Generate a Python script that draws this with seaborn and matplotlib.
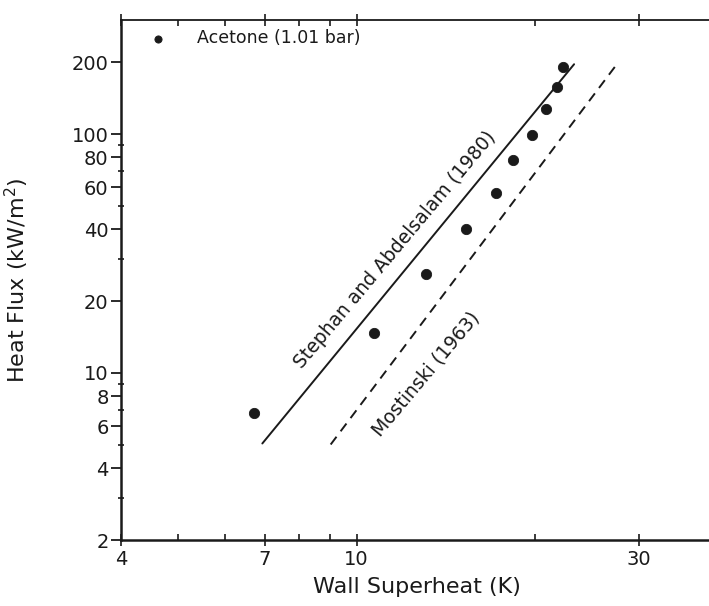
import pandas as pd
import seaborn as sns
import matplotlib.pyplot as plt
from matplotlib.ticker import FixedLocator, NullFormatter, FixedFormatter

# acetone at 1.01 bar
superheat = [6.7, 10.7, 13.1, 15.3, 17.2, 18.4, 19.8, 20.9, 21.8, 22.3]
heat_flux = [6.8, 14.7, 25.9, 39.9, 56.4, 78.0, 99.0, 127.0, 157.0, 191.0]

# correlation lines, end points
stephan_dt = [6.93, 23.3]
stephan_q = [5.07, 196.0]
mostinski_dt = [9.04, 27.6]
mostinski_q = [5.02, 198.0]

x_major = [4, 7, 10, 30]
x_minor = [5, 6, 8, 9, 20, 40]
y_major = [2, 4, 6, 8, 10, 20, 40, 60, 80, 100, 200]
y_minor = [3, 5, 7, 9, 30, 50, 70, 90]

sns.set_style("ticks")
plt.rcParams["font.family"] = ["DejaVu Sans"]
ink = "#1a1a1a"

df = pd.DataFrame({"dT": superheat, "q": heat_flux})

fig = plt.figure(figsize=(7.09, 6.06), dpi=100)
ax = fig.add_axes([0.1707, 0.1089, 0.835, 0.858])

sns.scatterplot(data=df, x="dT", y="q", ax=ax, color=ink, s=55,
                edgecolor=ink, label="Acetone (1.01 bar)", zorder=3)
sns.lineplot(x=stephan_dt, y=stephan_q, ax=ax, color=ink, lw=1.4)
sns.lineplot(x=mostinski_dt, y=mostinski_q, ax=ax, color=ink, lw=1.4,
             linestyle=(0, (5, 3.5)))

ax.set(xscale="log", yscale="log")
ax.set_xlim(4, 40)
ax.set_ylim(2, 300)

ax.xaxis.set_major_locator(FixedLocator(x_major))
ax.xaxis.set_major_formatter(FixedFormatter([str(v) for v in x_major]))
ax.xaxis.set_minor_locator(FixedLocator(x_minor))
ax.xaxis.set_minor_formatter(NullFormatter())
ax.yaxis.set_major_locator(FixedLocator(y_major))
ax.yaxis.set_major_formatter(FixedFormatter([str(v) for v in y_major]))
ax.yaxis.set_minor_locator(FixedLocator(y_minor))
ax.yaxis.set_minor_formatter(NullFormatter())

ax.tick_params(axis="x", which="major", direction="inout", length=9, width=1.2,
               labelsize=14, pad=3, colors=ink, top=True)
ax.tick_params(axis="x", which="minor", direction="in", length=4, width=1.2,
               top=True, colors=ink)
ax.tick_params(axis="y", which="major", direction="out", length=7, width=1.3,
               labelsize=14, pad=2, colors=ink)
ax.tick_params(axis="y", which="minor", direction="inout", length=4, width=1.2,
               colors=ink)
ax.tick_params(axis="y", which="both", right=True)

for side in ["left", "bottom"]:
    ax.spines[side].set_linewidth(1.8)
for side in ["top", "right"]:
    ax.spines[side].set_linewidth(1.3)
for s in ax.spines.values():
    s.set_color(ink)

ax.set_xlabel("Wall Superheat (K)", fontsize=16, color=ink)
ax.set_ylabel("Heat Flux (kW/m$^2$)", fontsize=16, color=ink)
ax.xaxis.set_label_coords(0.5, -0.072)
ax.yaxis.set_label_coords(-0.152, 0.5)

ax.text(11.6, 32.9, "Stephan and Abdelsalam (1980)", rotation=50,
        rotation_mode="anchor", ha="center", va="center", fontsize=13.5,
        color=ink)
ax.text(13.1, 9.9, "Mostinski (1963)", rotation=50,
        rotation_mode="anchor", ha="center", va="center", fontsize=13.5,
        color=ink)

ax.legend(loc="center left", bbox_to_anchor=(0.047, 0.965), frameon=False,
          fontsize=12.5, handlelength=1, handletextpad=1.8, borderpad=0,
          borderaxespad=0, markerscale=0.7, labelcolor=ink)

fig.savefig("out.png", dpi=100)
